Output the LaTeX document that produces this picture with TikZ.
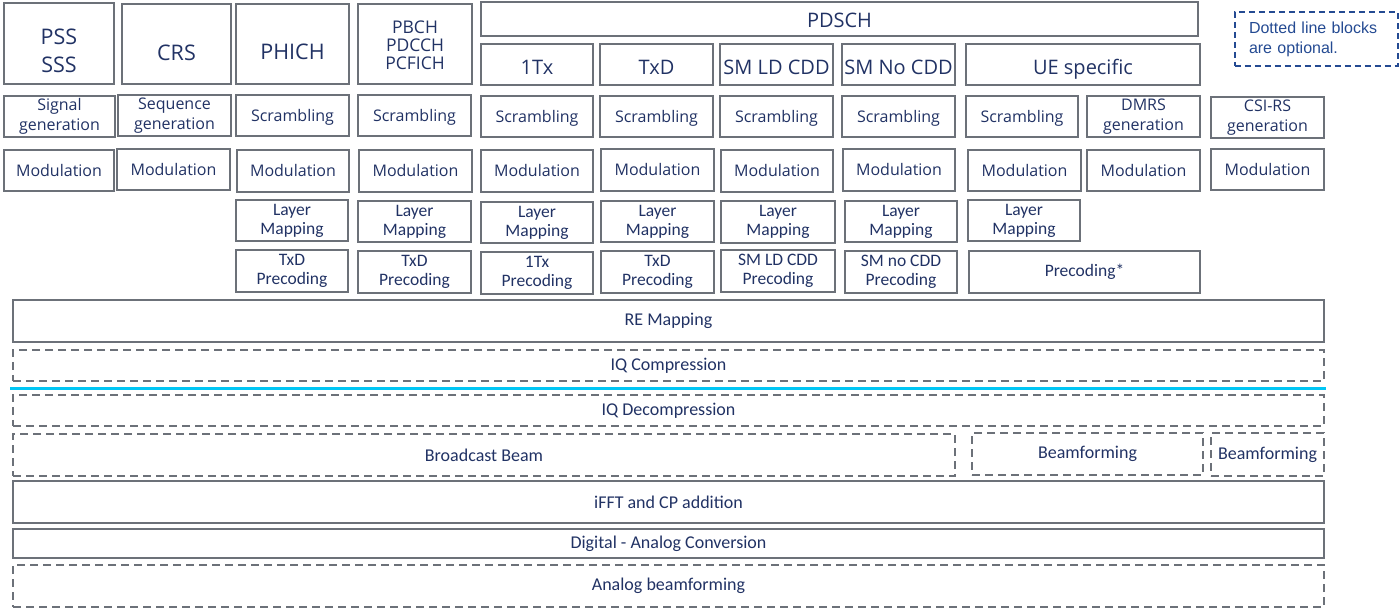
\documentclass[tikz,border=0pt]{standalone}
\usepackage{fontspec}
\setmainfont{Open Sans}
\newfontfamily\cfont{Carlito}
\newfontfamily\afont{Liberation Sans}
\definecolor{navy}{RGB}{33,50,100}
\definecolor{bgray}{RGB}{108,113,121}
\definecolor{cyanline}{RGB}{0,198,245}
\definecolor{legblue}{RGB}{36,74,146}
\tikzset{
  box/.style={draw=bgray, line width=2pt, inner sep=0pt, align=center, text=navy},
  opt/.style={box, dash pattern=on 8pt off 5pt},
  lbl/.style={inner sep=0pt, align=center, text=navy},
  hdr/.style={font={\fontsize{21.5}{28}\selectfont}},
  hdrs/.style={font={\fontsize{17.5}{18}\selectfont}},
  sub/.style={font={\fontsize{20}{24}\selectfont}},
  tsm/.style={font={\fontsize{16}{20}\selectfont}},
  lm/.style={font={\cfont\fontsize{17.5}{19}\selectfont}},
  low/.style={font={\cfont\fontsize{18}{22}\selectfont}},
  leg/.style={draw=legblue, line width=2pt, dash pattern=on 6pt off 4pt, inner sep=0pt,
    text=legblue, align=left, font={\afont\fontsize{16}{20}\selectfont}},
}
% box with text centred
\newcommand\bx[7]{\node[#6, minimum width={#4-#2}, minimum height={#5-#3}] (#1) at ({(#2+#4)/2},{(#3+#5)/2}) {#7};}
% box whose text is shifted vertically (#7 = shift, #8 = font style, #9 = text)
\newcommand\bxs[9]{\node[#6, minimum width={#4-#2}, minimum height={#5-#3},
   label={[lbl,#8,yshift=#7]center:{#9}}] (#1) at ({(#2+#4)/2},{(#3+#5)/2}) {};}
\begin{document}
\begin{tikzpicture}[x=1pt,y=-1pt]
\useasboundingbox (0,0) rectangle (1399,609);
% header row
\bxs{pss}{4}{3}{114}{84}{box}{-7.5pt}{hdr}{PSS\\SSS}
\bxs{crs}{122}{4}{231}{84}{box}{-9pt}{hdr}{CRS}
\bxs{phich}{236}{4}{349}{84}{box}{-8pt}{hdr}{PHICH}
\bxs{pbch}{358}{4}{472}{84}{box}{-1pt}{hdrs}{PBCH\\PDCCH\\PCFICH}
\bxs{pdsch}{481}{2}{1198}{36}{box}{-1pt}{sub}{PDSCH}
\bxs{tx1}{481}{44}{593}{85}{box}{-3pt}{sub}{1Tx}
\bxs{txd}{600}{44}{713}{85}{box}{-3pt}{sub}{TxD}
\bxs{smld}{720}{44}{833}{85}{box}{-3pt}{sub}{SM LD CDD}
\bxs{smno}{842}{44}{955}{85}{box}{-3pt}{sub}{SM No CDD}
\bxs{ue}{966}{44}{1200}{85}{box}{-5pt}{sub}{UE specific}
\node[leg, minimum width=163pt, minimum height=54pt, text width=134pt] (legend) at (1316,39) {Dotted line blocks\\are optional.};
% row 2
\bx{sig}{4}{96}{115}{137}{box,tsm}{Signal\\generation}
\bx{seq}{118}{95}{231}{136}{box,tsm}{Sequence\\generation}
\bxs{scA}{236}{95}{349}{136}{box}{-1.5pt}{tsm}{Scrambling}
\bxs{scB}{358}{95}{471}{136}{box}{-1.5pt}{tsm}{Scrambling}
\bxs{scC}{481}{96}{593}{137}{box}{-1.5pt}{tsm}{Scrambling}
\bxs{scD}{600}{96}{713}{137}{box}{-1.5pt}{tsm}{Scrambling}
\bxs{scE}{720}{96}{833}{137}{box}{-1.5pt}{tsm}{Scrambling}
\bxs{scF}{842}{96}{955}{137}{box}{-1.5pt}{tsm}{Scrambling}
\bxs{scG}{966}{96}{1078}{137}{box}{-1.5pt}{tsm}{Scrambling}
\bx{dmrs}{1087}{96}{1200}{137}{box,tsm}{DMRS\\generation}
\bx{csi}{1211}{97}{1324}{138}{box,tsm}{CSI-RS\\generation}
% row 3 modulation
\bx{moA}{4}{150}{114}{191}{box,tsm}{Modulation}
\bx{moB}{117}{149}{230}{190}{box,tsm}{Modulation}
\bx{moC}{237}{150}{349}{192}{box,tsm}{Modulation}
\bx{moD}{359}{150}{472}{192}{box,tsm}{Modulation}
\bx{moE}{481}{150}{593}{192}{box,tsm}{Modulation}
\bx{moF}{601}{149}{714}{191}{box,tsm}{Modulation}
\bx{moG}{721}{150}{833}{192}{box,tsm}{Modulation}
\bx{moH}{843}{149}{955}{191}{box,tsm}{Modulation}
\bx{moI}{968}{150}{1081}{191}{box,tsm}{Modulation}
\bx{moJ}{1087}{150}{1200}{191}{box,tsm}{Modulation}
\bx{moK}{1211}{149}{1324}{190}{box,tsm}{Modulation}
% row 4 layer mapping
\bx{lmA}{236}{200}{348}{241}{box,lm}{Layer\\Mapping}
\bx{lmB}{358}{201}{471}{242}{box,lm}{Layer\\Mapping}
\bx{lmC}{481}{202}{593}{243}{box,lm}{Layer\\Mapping}
\bx{lmD}{601}{201}{714}{242}{box,lm}{Layer\\Mapping}
\bx{lmE}{721}{201}{835}{243}{box,lm}{Layer\\Mapping}
\bx{lmF}{845}{201}{957}{242}{box,lm}{Layer\\Mapping}
\bx{lmG}{968}{200}{1080}{241}{box,lm}{Layer\\Mapping}
% row 5 precoding
\bx{prA}{236}{250}{348}{292}{box,lm}{TxD\\Precoding}
\bx{prB}{358}{251}{471}{293}{box,lm}{TxD\\Precoding}
\bx{prC}{481}{252}{593}{294}{box,lm}{1Tx\\Precoding}
\bx{prD}{601}{251}{714}{293}{box,lm}{TxD\\Precoding}
\bx{prE}{721}{250}{835}{292}{box,lm}{SM LD CDD\\Precoding}
\bx{prF}{845}{251}{957}{293}{box,lm}{SM no CDD\\Precoding}
\bx{prG}{969}{251}{1200}{293}{box,lm}{Precoding*}
% lower stack
\bx{re}{13}{300}{1324}{342}{box,low}{RE Mapping}
\bx{iqc}{13}{350}{1324}{381}{opt,low}{IQ Compression}
\coordinate (sepL) at (10,388);
\coordinate (sepR) at (1326,388);
\draw[cyanline, line width=3pt] (sepL) -- (sepR);
\bx{iqd}{13}{395}{1324}{426}{opt,low}{IQ Decompression}
\bx{bb}{13}{434}{955}{476}{opt,low}{Broadcast Beam}
\bx{bfA}{972}{433}{1203}{475}{opt,low}{Beamforming}
\bx{bfB}{1211}{433}{1324}{476}{opt,low}{Beamforming}
\bx{ifft}{13}{481}{1324}{523}{box,low}{iFFT and CP addition}
\bx{dac}{13}{529}{1324}{558}{box,low}{Digital - Analog Conversion}
\bx{abf}{13}{565}{1324}{607}{opt,low}{Analog beamforming}
\end{tikzpicture}
\end{document}
